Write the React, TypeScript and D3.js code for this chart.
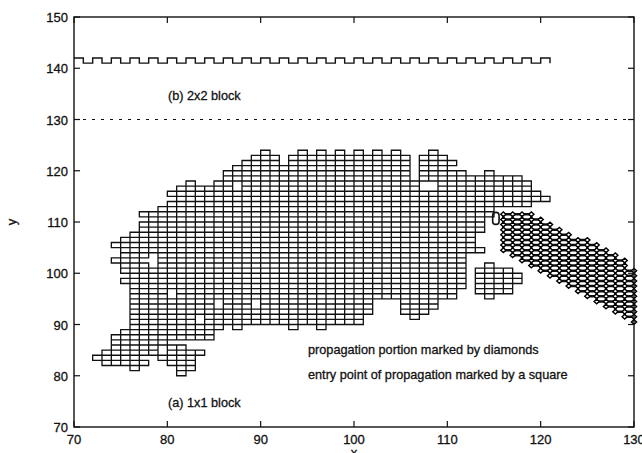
import * as d3 from 'd3';

// plot frame in pixels
const W = 642;
const H = 453;
const X0 = 74, X1 = 634, Y0 = 17, Y1 = 427;

const xTicks = [70, 80, 90, 100, 110, 120, 130];
const yTicks = [70, 80, 90, 100, 110, 120, 130, 140, 150];

// 1x1 blocks, one entry per row: [row y, occupied cell x positions (a-b = run)]
const blockRows: [number, string][] = [
  [123, '90 94 96 98 100 102 104 108'],
  [122, '89-91 93-105 107-109'],
  [121, '88-91 93-105 107-110'],
  [120, '87-105 107-109'],
  [119, '86-105 107-111 114'],
  [118, '86-105 107-117'],
  [117, '82 85-86 88-106 109-118'],
  [116, '81-86 88-106 109-118'],
  [115, '80-100 102-109 111-119'],
  [114, '81-120'],
  [113, '80-118'],
  [112, '79 81-114'],
  [111, '77-114'],
  [110, '78-113'],
  [109, '77-113'],
  [108, '77-113'],
  [107, '76-112'],
  [106, '75-78 80-112'],
  [105, '74-112'],
  [104, '75-113'],
  [103, '75-77 79-111'],
  [102, '74-76 79-111'],
  [101, '75-77 79-111 114'],
  [100, '75-111 113-116'],
  [99, '76-111 113-117'],
  [98, '75-111 113-117'],
  [97, '76-111 113-116'],
  [96, '76-79 81-110 113-116'],
  [95, '76-79 81-110 114'],
  [94, '76-84 86-88 90-101 105-108'],
  [93, '76-84 86-88 90-101 105-108'],
  [92, '76-101 105-107'],
  [91, '76-82 84-100 106'],
  [90, '76-82 84-100'],
  [89, '76-85 87 93 96'],
  [88, '75-84'],
  [87, '74-84'],
  [86, '74-79'],
  [85, '74-78 80-81'],
  [84, '73-78 80-83'],
  [83, '72-76 79-82'],
  [82, '73-77 80-82'],
  [81, '76 81-82'],
  [80, '81'],
];

// propagation portion: diamond columns with their lowest / highest marked row
const bandX = [116, 117, 118, 119, 120, 121, 122, 123, 124, 125, 126, 127, 128, 129, 130];
const bandLow = [104.5, 103.5, 102.5, 101.5, 100.5, 99.5, 98.5, 97.5, 96.5, 95.5, 94.5, 93.5, 92.5, 91.5, 90.5];
const bandHigh = [111.5, 111.5, 111.5, 111.5, 110.5, 109.5, 108.5, 107.5, 106.5, 106.5, 105.5, 104.5, 103.5, 102.5, 100.5];

const entryPoint = { x: 115.2, y: 110.7 };

// 2x2 block strip (start of each raised step)
const stripSteps = [70, 72, 74, 76, 78, 80, 82, 84, 86, 88, 90, 92, 94, 96, 98, 100, 102, 104, 106, 108, 110, 112, 114, 116, 118, 120];
const stripLow = 141;
const stripHigh = 142;
const stripEnd = 121;

const cutoff = 130;

const labels = [
  { text: '(b) 2x2 block', x: 168, y: 100 },
  { text: '(a) 1x1 block', x: 168, y: 407 },
  { text: 'propagation portion marked by diamonds', x: 308, y: 354 },
  { text: 'entry point of propagation marked by a square', x: 308, y: 379 },
];

const FONT = '"Liberation Sans", Arial, Helvetica, sans-serif';

function parseRuns(s: string): number[] {
  const out: number[] = [];
  s.split(' ').forEach((tok) => {
    const [a, b] = tok.split('-').map(Number);
    const end = b === undefined ? a : b;
    for (let v = a; v <= end; v++) out.push(v);
  });
  return out;
}

export default function App() {
  const x = d3.scaleLinear().domain([70, 130]).range([X0, X1]);
  const y = d3.scaleLinear().domain([70, 150]).range([Y1, Y0]);

  const cells: { cx: number; cy: number }[] = [];
  blockRows.forEach(([row, runs]) => {
    parseRuns(runs).forEach((cx) => cells.push({ cx, cy: row }));
  });

  const cellPath = cells
    .map(({ cx, cy }) => {
      const px = x(cx), py = y(cy + 1);
      const w = x(cx + 1) - px, h = y(cy) - py;
      return `M${px},${py}h${w}v${h}h${-w}Z`;
    })
    .join('');

  // strip square wave
  let strip = `M${x(stripSteps[0])},${y(stripHigh)}`;
  stripSteps.forEach((s, i) => {
    const next = i + 1 < stripSteps.length ? stripSteps[i + 1] : stripEnd;
    strip += `L${x(s)},${y(stripHigh)}L${x(s + 1)},${y(stripHigh)}L${x(s + 1)},${y(stripLow)}`;
    if (next > s + 1) strip += `L${x(Math.min(next, stripEnd))},${y(stripLow)}`;
    if (i + 1 < stripSteps.length) strip += `L${x(next)},${y(stripHigh)}`;
  });

  // diamond band grid
  const bandLines: string[] = [];
  const diamonds: { px: number; py: number }[] = [];
  bandX.forEach((bx, i) => {
    bandLines.push(`M${x(bx)},${y(bandLow[i])}V${y(bandHigh[i])}`);
    for (let v = bandLow[i]; v <= bandHigh[i] + 1e-6; v++) {
      diamonds.push({ px: x(bx), py: y(v) });
      if (i + 1 < bandX.length && v >= bandLow[i + 1] && v <= bandHigh[i + 1]) {
        bandLines.push(`M${x(bx)},${y(v)}H${x(bandX[i + 1])}`);
      }
    }
  });

  return (
    <svg width={W} height={H} style={{ display: 'block', position: 'absolute', left: 0, top: 0, background: '#fff' }}>
      <g fill="none" stroke="#111" strokeWidth={1.3}>
        <path d={cellPath} />
        <path d={strip} strokeWidth={1.4} />
        <line x1={x(70)} x2={x(130)} y1={y(cutoff)} y2={y(cutoff)} strokeDasharray="3 6" strokeWidth={1} />
        <path d={bandLines.join('')} strokeWidth={2.4} />
      </g>
      <g fill="#fff" stroke="#000" strokeWidth={1.4}>
        {diamonds.map((d, i) => (
          <path key={i} d={`M${d.px - 2.6},${d.py}L${d.px},${d.py - 2.3}L${d.px + 2.6},${d.py}L${d.px},${d.py + 2.3}Z`} />
        ))}
      </g>
      <rect x={x(entryPoint.x) - 3.2} y={y(entryPoint.y) - 6} width={6.4} height={12} rx={3} fill="none" stroke="#111" strokeWidth={1.6} />
      {/* frame and ticks */}
      <rect x={X0} y={Y0} width={X1 - X0} height={Y1 - Y0} fill="none" stroke="#111" strokeWidth={1.4} />
      <g stroke="#111" strokeWidth={1.2}>
        {xTicks.map((t) => (
          <g key={t}>
            <line x1={x(t)} x2={x(t)} y1={Y1} y2={Y1 - 6} />
            <line x1={x(t)} x2={x(t)} y1={Y0} y2={Y0 + 6} />
          </g>
        ))}
        {yTicks.map((t) => (
          <g key={t}>
            <line x1={X0} x2={X0 + 6} y1={y(t)} y2={y(t)} />
            <line x1={X1} x2={X1 - 6} y1={y(t)} y2={y(t)} />
          </g>
        ))}
      </g>
      <g fontFamily={FONT} fontSize={13} fill="#111" stroke="#111" strokeWidth={0.3}>
        {xTicks.map((t) => (
          <text key={t} x={x(t)} y={Y1 + 17} textAnchor="middle">{t}</text>
        ))}
        {yTicks.map((t) => (
          <text key={t} x={X0 - 6} y={y(t) + 5} textAnchor="end">{t}</text>
        ))}
        <text x={x(100)} y={457} textAnchor="middle">x</text>
        <text transform={`translate(16,${y(110)}) rotate(-90)`} textAnchor="middle">y</text>
        {labels.map((l) => (
          <text key={l.text} x={l.x} y={l.y} fontSize={12.7}>{l.text}</text>
        ))}
      </g>
    </svg>
  );
}
